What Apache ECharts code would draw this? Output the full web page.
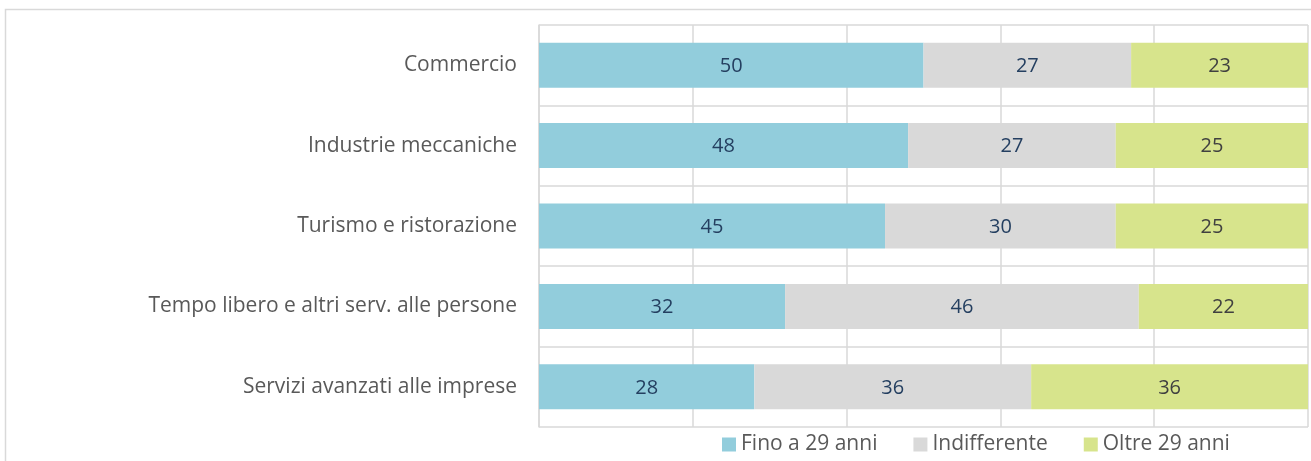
<!DOCTYPE html>
<html lang="it">
<head>
<meta charset="utf-8">
<title>Grafico</title>
<script src="https://cdn.jsdelivr.net/npm/echarts@6/dist/echarts.min.js"></script>
<style>
  html, body { margin: 0; padding: 0; background: #fff; }
  #chart { width: 1311px; height: 461px; }
</style>
</head>
<body>
<div id="chart"></div>
<script>
// categorie (dall'alto in basso)
var categorie = ['Commercio', 'Industrie meccaniche', 'Turismo e ristorazione',
  'Tempo libero e altri serv. alle persone', 'Servizi avanzati alle imprese'];
// valori percentuali
var fino29 = [50, 48, 45, 32, 28];
var indifferente = [27, 27, 30, 46, 36];
var oltre29 = [23, 25, 25, 22, 36];
var nomiSerie = ['Fino a 29 anni', 'Indifferente', 'Oltre 29 anni'];

var font = '"Open Sans", "Liberation Sans", sans-serif';

function serie(nome, dati, colore, colTesto) {
  return {
    name: nome,
    type: 'bar',
    stack: 'tot',
    data: dati,
    barCategoryGap: '44%',
    itemStyle: { color: colore },
    label: {
      show: true,
      position: 'inside',
      color: colTesto,
      fontFamily: font,
      fontSize: 20,
      offset: [0, 1]
    }
  };
}

var myChart = echarts.init(document.getElementById('chart'));
var option = {
  animation: false,
  textStyle: { fontFamily: font },
  graphic: [{
    type: 'rect',
    shape: { x: 5.5, y: 9.5, width: 1330, height: 480 },
    style: { fill: 'none', stroke: '#d9d9d9', lineWidth: 1.5 },
    silent: true
  }],
  grid: { left: 539, right: 3, top: 25, bottom: 34 },
  legend: {
    left: 717,
    bottom: 1,
    itemWidth: 14,
    itemHeight: 14,
    itemGap: 36,
    icon: 'rect',
    textStyle: { color: '#595959', fontSize: 21, fontFamily: font },
    data: nomiSerie
  },
  xAxis: {
    type: 'value',
    min: 0,
    max: 100,
    interval: 20,
    axisLabel: { show: false },
    axisLine: { show: false },
    axisTick: { show: false },
    splitLine: { show: true, lineStyle: { color: '#d9d9d9', width: 1.5 } }
  },
  yAxis: {
    type: 'category',
    inverse: true,
    data: categorie,
    axisLine: { show: true, lineStyle: { color: '#d9d9d9', width: 1.5 } },
    axisTick: { show: false },
    axisLabel: { color: '#595959', fontSize: 21, fontFamily: font, margin: 22, padding: [5, 0, 0, 0] },
    splitLine: { show: true, lineStyle: { color: '#d9d9d9', width: 1.5 } }
  },
  series: [
    serie(nomiSerie[0], fino29, '#92cddc', '#243f60'),
    serie(nomiSerie[1], indifferente, '#d9d9d9', '#243f60'),
    serie(nomiSerie[2], oltre29, '#d7e48c', '#404040')
  ]
};
myChart.setOption(option);
</script>
</body>
</html>
